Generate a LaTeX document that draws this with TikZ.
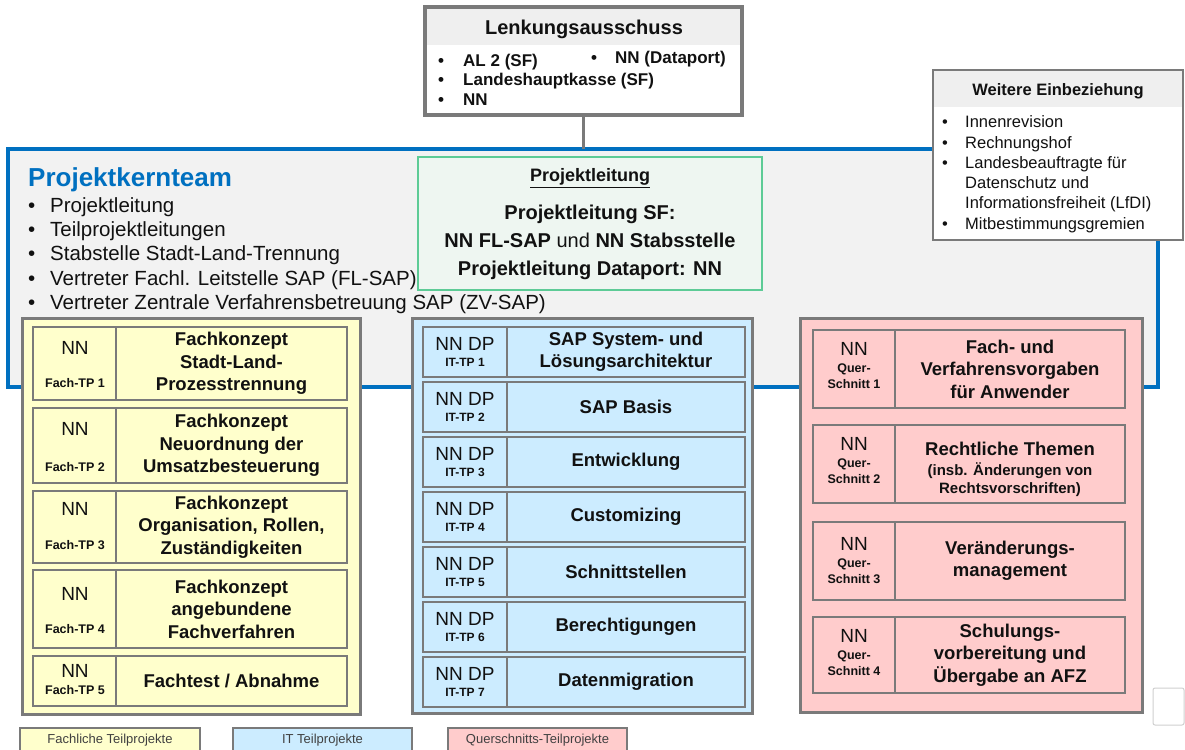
\documentclass[tikz,border=0pt]{standalone}
\usepackage{fontspec}
\setmainfont{Liberation Sans}
\definecolor{cellgray}{HTML}{7A7A7A}
\definecolor{pkblue}{HTML}{0070C0}
\definecolor{pkfill}{HTML}{F2F2F2}
\definecolor{headgray}{HTML}{EFEFEF}
\definecolor{yelfill}{HTML}{FFFFCC}
\definecolor{bluefill}{HTML}{CCECFF}
\definecolor{redfill}{HTML}{FFCCCC}
\definecolor{grnline}{HTML}{5DCB96}
\definecolor{grnfill}{HTML}{EEF6F1}
\definecolor{txt}{HTML}{111111}
\definecolor{legtxt}{HTML}{404040}
\definecolor{smallbox}{HTML}{D0D0D0}
\newcommand\fsz[2]{\fontsize{#1}{#2}\selectfont}
\begin{document}
\begin{tikzpicture}[x=1pt,y=-1pt,
  every node/.style={text=txt},
  box/.style={anchor=north west, inner sep=0pt, outer sep=0pt},
  col/.style={box, draw=cellgray, line width=3pt},
  cell/.style={box, draw=cellgray, line width=2.6pt, align=center, font=\fsz{18.5}{22.5}\bfseries},
  lbl/.style={inner sep=0pt, anchor=base},
  lblw/.style={inner sep=0pt, anchor=base west},
  nnfont/.style={font=\fsz{19}{22}},
  tpfont/.style={font=\fsz{12.5}{15}\bfseries},
  legend/.style={box, draw=cellgray, line width=2pt, minimum height=24pt, font=\fsz{13}{15}, text=legtxt},
  conn/.style={draw=cellgray, line width=3pt}]
\useasboundingbox (0,0) rectangle (1185,749);

% ---------- Projektkernteam frame ----------
\node[box, draw=pkblue, line width=4pt, fill=pkfill, minimum width=1150pt, minimum height=238pt] (pk) at (8,149) {};
\node[lblw, font=\fsz{26}{30}\bfseries, text=pkblue] (pktitle) at (28,186) {Projektkernteam};
\foreach \t [count=\i] in {Projektleitung, Teilprojektleitungen, Stabstelle Stadt-Land-Trennung, Vertreter Fachl. Leitstelle SAP (FL-SAP), Vertreter Zentrale Verfahrensbetreuung SAP (ZV-SAP)}{
  \node[lblw, font=\fsz{20.5}{24}] (pkb\i) at (28,212+24.4*\i-24.4) {\makebox[22pt][l]{•}\t};
}

% ---------- Lenkungsausschuss ----------
\node[box, draw=cellgray, line width=4pt, fill=white, minimum width=317pt, minimum height=108pt] (lenk) at (425,7) {};
\fill[headgray] (427,9) rectangle (740,45);
\node[lbl, font=\fsz{20}{24}\bfseries] (lenktitle) at (584,35) {Lenkungsausschuss};
\node[lblw, font=\fsz{17}{20}\bfseries] (lk1) at (438,67) {\makebox[25pt][l]{•}AL 2 (SF)};
\node[lblw, font=\fsz{17}{20}\bfseries] (lk2) at (591,64) {\makebox[24pt][l]{•}NN (Dataport)};
\node[lblw, font=\fsz{17}{20}\bfseries] (lk3) at (438,86) {\makebox[25pt][l]{•}Landeshauptkasse (SF)};
\node[lblw, font=\fsz{17}{20}\bfseries] (lk4) at (438,106) {\makebox[25pt][l]{•}NN};
\draw[conn] (lenk.south) -- (lenk.south |- pk.north);

% ---------- Weitere Einbeziehung ----------
\node[box, draw=cellgray, line width=1.5pt, fill=white, minimum width=250pt, minimum height=170pt] (weit) at (933,70) {};
\fill[headgray] (934,71) rectangle (1182,107);
\node[lbl, font=\fsz{16.5}{20}\bfseries] (weittitle) at (1058,96) {Weitere Einbeziehung};
\node[lblw, font=\fsz{16.5}{20}] (w1) at (942,128) {\makebox[23pt][l]{•}Innenrevision};
\node[lblw, font=\fsz{16.5}{20}] (w2) at (942,148) {\makebox[23pt][l]{•}Rechnungshof};
\node[lblw, font=\fsz{16.5}{20}] (w3) at (942,168) {\makebox[23pt][l]{•}Landesbeauftragte für};
\node[lblw, font=\fsz{16.5}{20}] (w4) at (965,188) {Datenschutz und};
\node[lblw, font=\fsz{16.5}{20}] (w5) at (965,208) {Informationsfreiheit (LfDI)};
\node[lblw, font=\fsz{16.5}{20}] (w6) at (942,229) {\makebox[23pt][l]{•}Mitbestimmungsgremien};

% ---------- Projektleitung ----------
\node[box, draw=grnline, line width=2.5pt, fill=grnfill, minimum width=344pt, minimum height=133pt] (pl) at (418,157) {};
\node[lbl, font=\fsz{18}{22}\bfseries] (pl0) at (590,181.5) {\underline{Projektleitung}};
\node[lbl, font=\fsz{20}{24}\bfseries] (pl1) at (590,219) {Projektleitung SF:};
\node[lbl, font=\fsz{20}{24}\bfseries] (pl2) at (590,247) {NN FL-SAP \mdseries und \bfseries NN Stabsstelle};
\node[lbl, font=\fsz{20}{24}\bfseries] (pl3) at (590,275) {Projektleitung Dataport: NN};

% ---------- Fachliche Teilprojekte ----------
\node[col, fill=yelfill, minimum width=338pt, minimum height=396pt] (ycol) at (22,318) {};
\node[cell, fill=yelfill, minimum width=83pt, minimum height=73pt] (y1l) at (33,327) {};
\node[cell, fill=yelfill, minimum width=231pt, minimum height=73pt] (y1r) at (116,327) {Fachkonzept\\Stadt-Land-\\Prozesstrennung};
\node[cell, fill=yelfill, minimum width=83pt, minimum height=75pt] (y2l) at (33,408) {};
\node[cell, fill=yelfill, minimum width=231pt, minimum height=75pt] (y2r) at (116,408) {Fachkonzept\\Neuordnung der\\Umsatzbesteuerung};
\node[cell, fill=yelfill, minimum width=83pt, minimum height=72pt] (y3l) at (33,491) {};
\node[cell, fill=yelfill, minimum width=231pt, minimum height=72pt] (y3r) at (116,491) {Fachkonzept\\Organisation, Rollen,\\Zuständigkeiten};
\node[cell, fill=yelfill, minimum width=83pt, minimum height=78pt] (y4l) at (33,570) {};
\node[cell, fill=yelfill, minimum width=231pt, minimum height=78pt] (y4r) at (116,570) {Fachkonzept\\angebundene\\Fachverfahren};
\node[cell, fill=yelfill, minimum width=83pt, minimum height=50pt] (y5l) at (33,656) {};
\node[cell, fill=yelfill, minimum width=231pt, minimum height=50pt] (y5r) at (116,656) {Fachtest / Abnahme};
\node[lbl, nnfont] (y1n) at (75,354) {NN};
\node[lbl, tpfont] (y1t) at (75,387.5) {Fach-TP 1};
\node[lbl, nnfont] (y2n) at (75,435) {NN};
\node[lbl, tpfont] (y2t) at (75,471.5) {Fach-TP 2};
\node[lbl, nnfont] (y3n) at (75,515) {NN};
\node[lbl, tpfont] (y3t) at (75,549.5) {Fach-TP 3};
\node[lbl, nnfont] (y4n) at (75,600) {NN};
\node[lbl, tpfont] (y4t) at (75,633.5) {Fach-TP 4};
\node[lbl, nnfont] (y5n) at (75,677) {NN};
\node[lbl, tpfont] (y5t) at (75,694.5) {Fach-TP 5};

% ---------- IT Teilprojekte ----------
\node[col, fill=bluefill, minimum width=340pt, minimum height=395pt] (bcol) at (412,318) {};
\foreach \i/\t in {1/{SAP System- und\\Lösungsarchitektur},2/{SAP Basis},3/{Entwicklung},4/{Customizing},5/{Schnittstellen},6/{Berechtigungen},7/{Datenmigration}}{
  \pgfmathsetmacro\yt{327+55*(\i-1)}
  \node[cell, fill=bluefill, minimum width=84pt, minimum height=50pt] (b\i l) at (423,\yt) {};
  \node[cell, fill=bluefill, minimum width=238pt, minimum height=50pt] (b\i r) at (507,\yt) {\t};
  \node[lbl, nnfont] (b\i n) at (465,\yt+23) {NN DP};
  \node[lbl, font=\fsz{12}{14}\bfseries] (b\i t) at (465,\yt+39.5) {IT-TP \i};
}

% ---------- Querschnitts-Teilprojekte ----------
\node[col, fill=redfill, minimum width=342pt, minimum height=394pt] (rcol) at (800,318) {};
\node[cell, fill=redfill, minimum width=82pt, minimum height=78pt] (r1l) at (813,330) {};
\node[cell, fill=redfill, minimum width=230pt, minimum height=78pt] (r1r) at (895,330) {Fach- und\\Verfahrensvorgaben\\für Anwender};
\node[cell, fill=redfill, minimum width=82pt, minimum height=78pt] (r2l) at (813,425) {};
\node[cell, fill=redfill, minimum width=230pt, minimum height=78pt] (r2r) at (895,425) {};
\node[lbl, font=\fsz{18.5}{22}\bfseries] (r2a) at (1010,455) {Rechtliche Themen};
\node[lbl, font=\fsz{15}{18}\bfseries] (r2b) at (1010,475.5) {(insb. Änderungen von};
\node[lbl, font=\fsz{15}{18}\bfseries] (r2c) at (1010,493.5) {Rechtsvorschriften)};
\node[cell, fill=redfill, minimum width=82pt, minimum height=78pt] (r3l) at (813,522) {};
\node[cell, fill=redfill, minimum width=230pt, minimum height=78pt] (r3r) at (895,522) {Veränderungs-\\management};
\node[cell, fill=redfill, minimum width=82pt, minimum height=76pt] (r4l) at (813,617) {};
\node[cell, fill=redfill, minimum width=230pt, minimum height=76pt] (r4r) at (895,617) {Schulungs-\\vorbereitung und\\Übergabe an AFZ};
\foreach \i/\yt/\d in {1/330/0,2/425/0,3/522/3,4/617/0}{
  \node[lbl, nnfont] (r\i n) at (854,\yt+25+\d) {NN};
  \node[lbl, tpfont] (r\i q) at (854,\yt+42.5+\d) {Quer-};
  \node[lbl, tpfont] (r\i s) at (854,\yt+58.5+\d) {Schnitt \i};
}

% ---------- Legend ----------
\node[legend, fill=yelfill, minimum width=180pt] (leg1) at (20,728) {Fachliche Teilprojekte};
\node[legend, fill=bluefill, minimum width=179pt] (leg2) at (233,728) {IT Teilprojekte};
\node[legend, fill=redfill, minimum width=179pt] (leg3) at (448,728) {Querschnitts-Teilprojekte};

% ---------- small empty box ----------
\node[box, draw=smallbox, line width=1pt, fill=white, rounded corners=2pt, minimum width=31pt, minimum height=37pt] (blank) at (1153,688) {};
\end{tikzpicture}
\end{document}
